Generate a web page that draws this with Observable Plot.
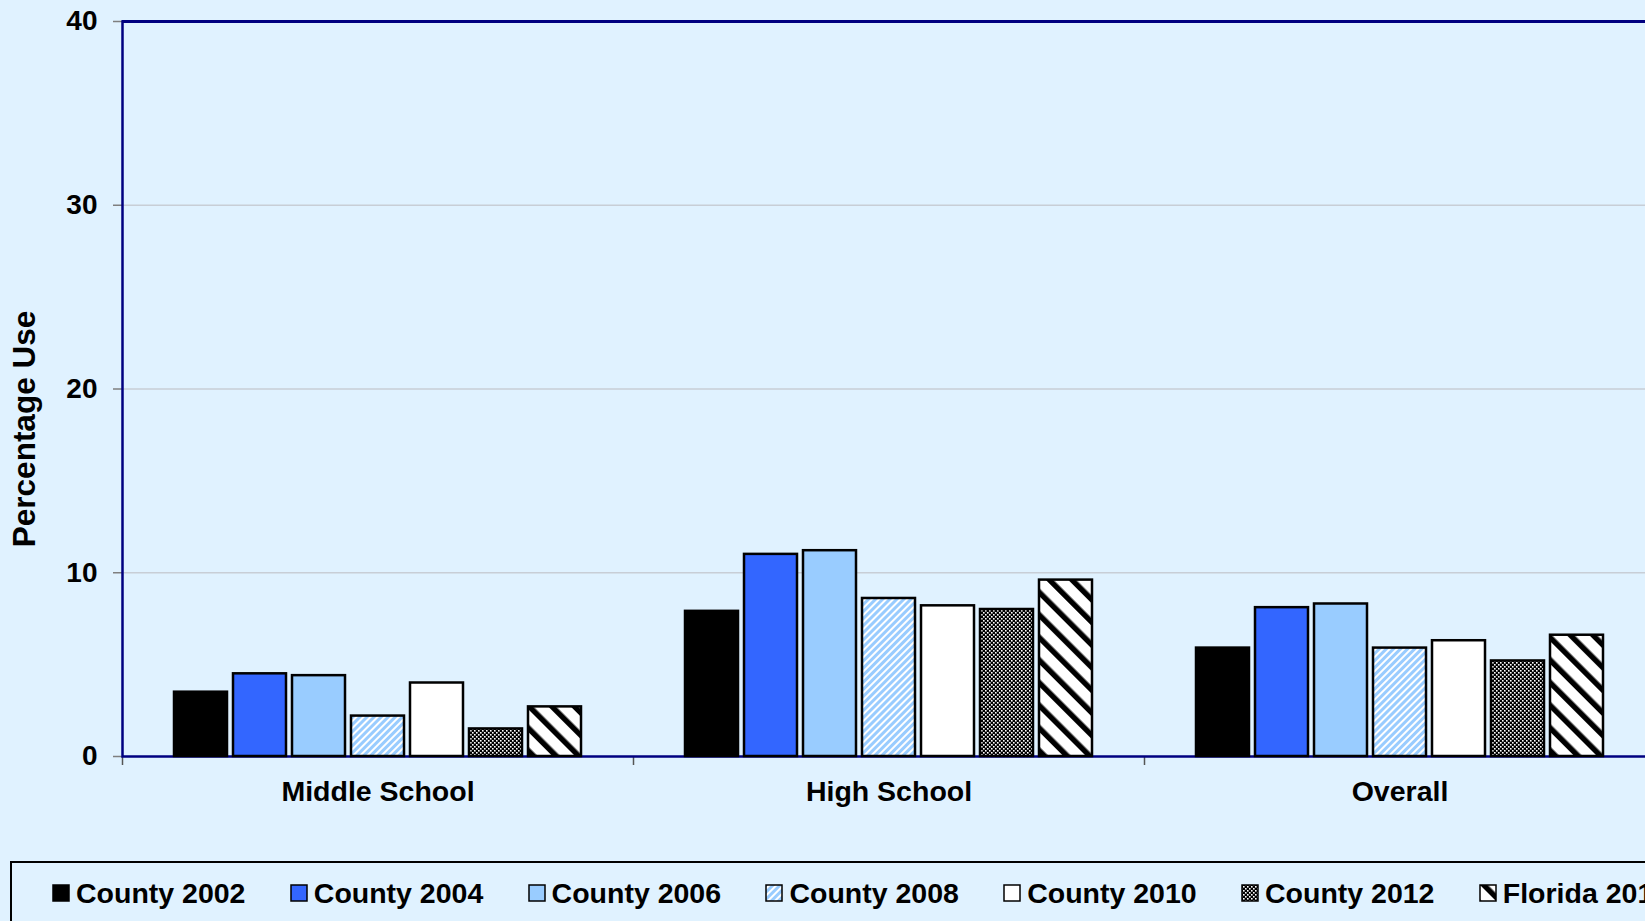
<!DOCTYPE html>
<html>
<head>
<meta charset="utf-8">
<script src="https://cdn.jsdelivr.net/npm/d3@7"></script>
<script src="https://cdn.jsdelivr.net/npm/@observablehq/plot@0.6"></script>
<style>
  html, body { margin: 0; padding: 0; background: #E0F2FF; overflow: hidden; width: 1645px; height: 921px; }
  body { position: relative; font-family: "Liberation Sans", Arial, sans-serif; }
  #chart { position: absolute; left: 0; top: 0; width: 1660px; }
  #chart svg { max-width: none !important; }
  #legend { position: absolute; left: 10px; top: 861px; width: 1720px; height: 120px; border: 2px solid #000; box-sizing: border-box; }
  #legend .items { position: absolute; left: 40px; top: 15px; display: flex; align-items: center; height: 30px; }
  #legend .item { width: 237.8px; display: flex; align-items: center; flex: none; }
  #legend .item svg { margin-right: 6px; flex: none; }
  #legend .item span { font-size: 28.5px; font-weight: bold; color: #000; white-space: nowrap; line-height: 30px; }
</style>
</head>
<body>
<div id="chart"></div>
<div id="legend"><div class="items"></div></div>
<script>
// ---- data ----
const groups = ["Middle School", "High School", "Overall"];
const series = ["County 2002", "County 2004", "County 2006", "County 2008", "County 2010", "County 2012", "Florida 2012"];
const middleSchool = [3.5, 4.5, 4.4, 2.2, 4.0, 1.5, 2.7];
const highSchool   = [7.9, 11.0, 11.2, 8.6, 8.2, 8.0, 9.6];
const overall      = [5.9, 8.1, 8.3, 5.9, 6.3, 5.2, 6.6];
const yTicks = [0, 10, 20, 30, 40];
const yLabel = "Percentage Use";

// ---- styles ----
const fills = ["#000000", "#3366FF", "#99CCFF", "url(#hatchBlue)", "#FFFFFF", "url(#checker)", "url(#hatchBlack)"];

const valuesByGroup = [middleSchool, highSchool, overall];
const data = groups.flatMap((g, gi) => series.map((s, si) => ({group: g, series: s, value: valuesByGroup[gi][si]})));

const W = 1660, ML = 122, MR = 5;
const bandHalf = (W - ML - MR) / groups.length / 2;

const chart = Plot.plot({
  width: W, height: 840,
  marginLeft: ML, marginRight: MR, marginTop: 21, marginBottom: 84,
  style: {background: "transparent", fontFamily: "'Liberation Sans', Arial, sans-serif", fontSize: "28px", fontWeight: "bold", color: "#000", overflow: "visible", maxWidth: "none"},
  fx: {domain: groups, padding: 0, label: null},
  x: {domain: series, paddingInner: 0.11, paddingOuter: 0.84, axis: null},
  y: {domain: [0, 40], label: null},
  color: {type: "ordinal", domain: series, range: fills},
  marks: [
    Plot.gridY(yTicks.filter(d => d > 0 && d < 40), {stroke: "#c8ced6", strokeOpacity: 1, strokeWidth: 1.5}),
    Plot.axisY(yTicks, {tickSize: 9, tickPadding: 16, stroke: "#7f7f7f", strokeWidth: 1.5, label: null, fontSize: 28, fontWeight: "bold"}),
    Plot.axisFx({anchor: "bottom", tickSize: 0, tickPadding: 24, label: null, fontSize: 28.5, fontWeight: "bold"}),
    Plot.axisFx({anchor: "bottom", tickSize: 9, text: null, label: null, dx: -bandHalf, stroke: "#555", strokeWidth: 1.5}),
    Plot.frame({stroke: "#000080", strokeWidth: 2.5, facet: "super"}),
    Plot.ruleY([40], {stroke: "#000080", strokeWidth: 3}),
    Plot.barY(data, {fx: "group", x: "series", y: "value", fill: "series", stroke: "#000", strokeWidth: 2.5}),
    Plot.text([yLabel], {facet: "super", frameAnchor: "left", textAnchor: "middle", rotate: -90, dx: -98, dy: 40, fontSize: 31.5, fontWeight: "bold"})
  ]
});

// patterns
const defs = d3.select(chart).insert("defs", ":first-child");
const hb = defs.append("pattern").attr("id", "hatchBlue").attr("patternUnits", "userSpaceOnUse")
  .attr("width", 5).attr("height", 5).attr("patternTransform", "rotate(45)");
hb.append("rect").attr("width", 5).attr("height", 5).attr("fill", "#fff");
hb.append("rect").attr("width", 3).attr("height", 5).attr("fill", "#99CCFF");
const ck = defs.append("pattern").attr("id", "checker").attr("patternUnits", "userSpaceOnUse")
  .attr("width", 4).attr("height", 4);
ck.append("rect").attr("width", 4).attr("height", 4).attr("fill", "#000");
ck.append("rect").attr("x", 0).attr("y", 0).attr("width", 1.6).attr("height", 1.6).attr("fill", "#fff");
ck.append("rect").attr("x", 2).attr("y", 2).attr("width", 1.6).attr("height", 1.6).attr("fill", "#fff");
const hk = defs.append("pattern").attr("id", "hatchBlack").attr("patternUnits", "userSpaceOnUse")
  .attr("width", 16).attr("height", 16).attr("patternTransform", "rotate(-45)");
hk.append("rect").attr("width", 16).attr("height", 16).attr("fill", "#fff");
hk.append("rect").attr("width", 5.5).attr("height", 16).attr("fill", "#000");

document.getElementById("chart").appendChild(chart);

// legend
const items = d3.select("#legend .items");
series.forEach((s, i) => {
  const it = items.append("div").attr("class", "item");
  const sv = it.append("svg").attr("width", 18).attr("height", 18);
  sv.append("rect").attr("x", 1).attr("y", 1).attr("width", 16).attr("height", 16)
    .attr("fill", fills[i]).attr("stroke", "#000").attr("stroke-width", 1.5);
  it.append("span").text(s);
});
</script>
</body>
</html>
